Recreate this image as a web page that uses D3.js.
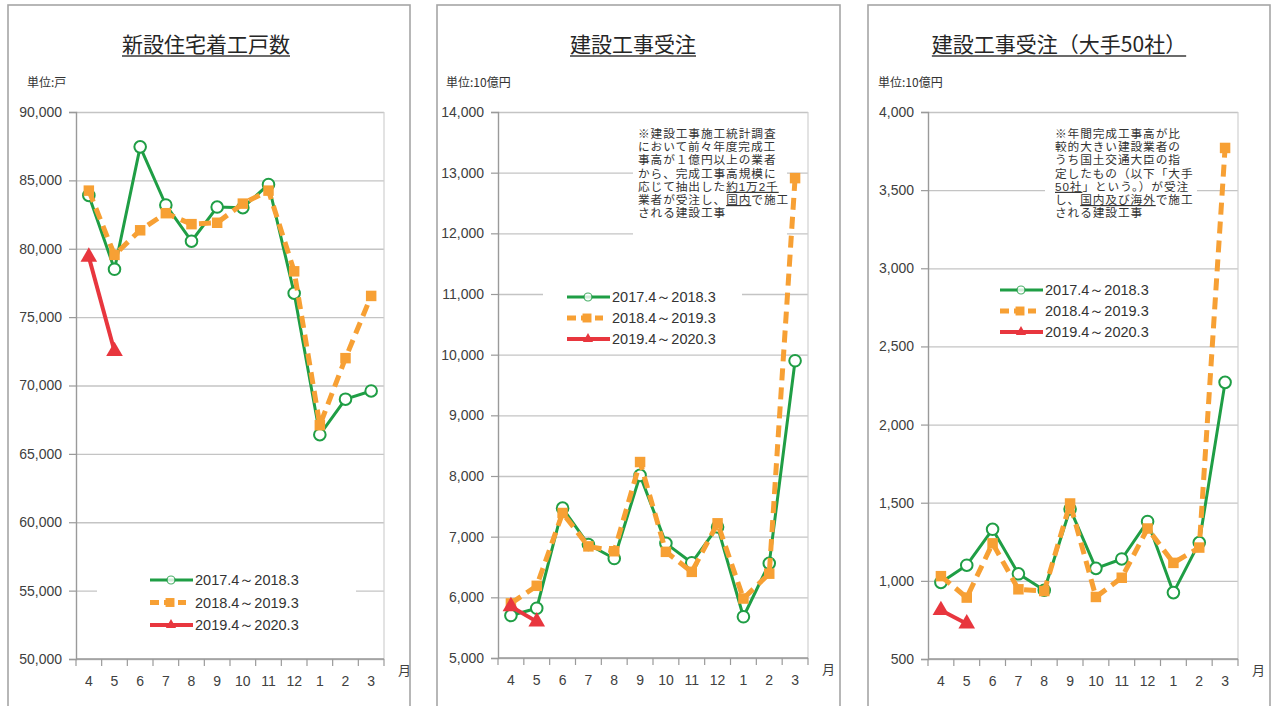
<!DOCTYPE html>
<html lang="ja">
<head>
<meta charset="utf-8">
<script src="https://cdn.jsdelivr.net/npm/d3@7"></script>
<style>
  html, body { margin: 0; padding: 0; background: #fff; }
  svg { display: block; }
  .tick text { font-family: "Liberation Sans", Arial, sans-serif; }
</style>
</head>
<body>
<svg id="chart" width="1271" height="706"></svg>
<script>
// ---- data ----
const months = ["4", "5", "6", "7", "8", "9", "10", "11", "12", "1", "2", "3"];
const seriesNames = ["2017.4～2018.3", "2018.4～2019.3", "2019.4～2020.3"];

// 新設住宅着工戸数 (戸)
const housing2017 = [83900, 78500, 87450, 83200, 80550, 83050, 83000, 84700, 76750, 66400, 69000, 69600];
const housing2018 = [84250, 79550, 81350, 82600, 81800, 81900, 83300, 84250, 78350, 67100, 72000, 76550];
const housing2019 = [79400, 72500];
const housingTicks = [50000, 55000, 60000, 65000, 70000, 75000, 80000, 85000, 90000];

// 建設工事受注 (10億円)
const orders2017 = [5700, 5820, 7470, 6870, 6640, 8010, 6890, 6570, 7160, 5680, 6560, 9900];
const orders2018 = [5900, 6190, 7390, 6840, 6760, 8230, 6750, 6420, 7220, 5980, 6390, 12910];
const orders2019 = [5850, 5600];
const ordersTicks = [5000, 6000, 7000, 8000, 9000, 10000, 11000, 12000, 13000, 14000];

// 建設工事受注（大手50社） (10億円)
const top50_2017 = [990, 1100, 1330, 1045, 940, 1460, 1080, 1140, 1380, 925, 1245, 2270];
const top50_2018 = [1030, 893, 1240, 946, 935, 1495, 897, 1020, 1335, 1115, 1213, 3770];
const top50_2019 = [812, 726];
const top50Ticks = [500, 1000, 1500, 2000, 2500, 3000, 3500, 4000];

const titles = ["新設住宅着工戸数", "建設工事受注", "建設工事受注（大手50社）"];
const units = ["単位:戸", "単位:10億円", "単位:10億円"];

// notes: each line is a list of [text, underlined?] pieces
const note2 = [
  [["※建設工事施工統計調査"]],
  [["において前々年度完成工"]],
  [["事高が１億円以上の業者"]],
  [["から、完成工事高規模に"]],
  [["応じて抽出した"], ["約1万2千", true]],
  [["業者が受注し、"], ["国内", true], ["で施工"]],
  [["される建設工事"]]
];
const note3 = [
  [["※年間完成工事高が比"]],
  [["較的大きい建設業者の"]],
  [["うち国土交通大臣の指"]],
  [["定したもの（以下「大手"]],
  [["50社", true], ["」という。）が受注"]],
  [["し、"], ["国内及び海外", true], ["で施工"]],
  [["される建設工事"]]
];

// ---- layout ----
const panels = [
  { box: [8, 5, 402], plot: [76, 384, 112, 659], titleX: 206, unitX: 27,
    series: [housing2017, housing2018, housing2019], ticks: housingTicks,
    legend: { x: 150, y: 580, bg: [97, 566, 259, 72] }, note: null },
  { box: [437, 5, 403], plot: [498, 808, 112, 658], titleX: 633, unitX: 446,
    series: [orders2017, orders2018, orders2019], ticks: ordersTicks,
    legend: { x: 567, y: 297, bg: [543, 285, 199, 66] },
    note: { lines: note2, x: 638, y: 138, bg: [633, 126, 154, 115] } },
  { box: [868, 5, 402], plot: [928, 1238, 112, 659], titleX: 1059, unitX: 878,
    series: [top50_2017, top50_2018, top50_2019], ticks: top50Ticks,
    legend: { x: 1000, y: 290, bg: [995, 279, 160, 62] },
    note: { lines: note3, x: 1055, y: 138, bg: [1045, 126, 152, 100] } }
];

const colors = { green: "#1f9e45", orange: "#f7a034", red: "#e8363e" };
const svg = d3.select("#chart");

function markerPath(kind, size) {
  return kind === "square" ? d3.symbol(d3.symbolSquare, size)() : d3.symbol(d3.symbolTriangle, size)();
}

panels.forEach((p, i) => {
  const g = svg.append("g");
  const [L, R, T, B] = p.plot;

  // panel frame
  g.append("rect")
    .attr("x", p.box[0]).attr("y", p.box[1])
    .attr("width", p.box[2]).attr("height", 730)
    .attr("fill", "#fff").attr("stroke", "#a6a6a6").attr("stroke-width", 1.6);

  // title with underline
  const title = g.append("text")
    .attr("x", p.titleX).attr("y", 52)
    .attr("text-anchor", "middle")
    .attr("font-family", "'Noto Sans CJK JP', sans-serif")
    .attr("font-size", 21).attr("fill", "#262626")
    .text(titles[i]);
  const tb = title.node().getBBox();
  g.append("line")
    .attr("x1", tb.x).attr("x2", tb.x + tb.width)
    .attr("y1", 56).attr("y2", 56)
    .attr("stroke", "#3a3a3a").attr("stroke-width", 1.5);

  // unit label
  g.append("text")
    .attr("x", p.unitX).attr("y", 87)
    .attr("font-family", "'Noto Sans CJK JP', sans-serif")
    .attr("font-size", 12).attr("fill", "#333")
    .text(units[i]);

  // scales
  const x = d3.scaleBand().domain(months).range([L, R]).padding(0);
  const y = d3.scaleLinear().domain([p.ticks[0], p.ticks[p.ticks.length - 1]]).range([B, T]);

  // gridlines
  g.append("g")
    .attr("transform", `translate(${L},0)`)
    .call(d3.axisLeft(y).tickValues(p.ticks).tickSize(-(R - L)).tickFormat(""))
    .call(a => a.select(".domain").remove())
    .call(a => a.selectAll("line").attr("stroke", "#c4c4c4").attr("stroke-width", 1.3));

  // right edge of the plot area
  g.append("line").attr("x1", R).attr("x2", R).attr("y1", T).attr("y2", B)
    .attr("stroke", "#d0d0d0").attr("stroke-width", 1.2);

  // y axis with outer ticks and labels
  g.append("g")
    .attr("transform", `translate(${L},0)`)
    .call(d3.axisLeft(y).tickValues(p.ticks).tickSize(7).tickPadding(7).tickFormat(d3.format(",")))
    .call(a => a.select(".domain").attr("stroke", "#9a9a9a").attr("stroke-width", 1.4))
    .call(a => a.selectAll(".tick line").attr("stroke", "#9a9a9a").attr("stroke-width", 1.2))
    .call(a => a.selectAll(".tick text").attr("font-size", 14).attr("fill", "#404040"));

  // x axis: ticks at category boundaries, labels centred in each band
  const xa = g.append("g").attr("transform", `translate(0,${B})`);
  xa.append("line").attr("x1", L).attr("x2", R).attr("y1", 0).attr("y2", 0)
    .attr("stroke", "#9a9a9a").attr("stroke-width", 1.4);
  const bounds = months.map(m => x(m)).concat([R]);
  xa.selectAll("line.tk").data(bounds).join("line").attr("class", "tk")
    .attr("x1", d => d).attr("x2", d => d).attr("y1", 0).attr("y2", 7)
    .attr("stroke", "#9a9a9a").attr("stroke-width", 1.2);
  xa.selectAll("text").data(months).join("text")
    .attr("x", d => x(d) + x.bandwidth() / 2).attr("y", 27)
    .attr("text-anchor", "middle")
    .attr("font-family", "'Liberation Sans', Arial, sans-serif")
    .attr("font-size", 14).attr("fill", "#404040")
    .text(d => d);
  g.append("text")
    .attr("x", R + 14).attr("y", B + 16)
    .attr("font-family", "'Noto Sans CJK JP', sans-serif")
    .attr("font-size", 13).attr("fill", "#404040")
    .text("月");

  // backgrounds of legend and note
  const lg = p.legend;
  g.append("rect").attr("x", lg.bg[0]).attr("y", lg.bg[1]).attr("width", lg.bg[2]).attr("height", lg.bg[3]).attr("fill", "#fff");
  if (p.note) {
    const nb = p.note.bg;
    g.append("rect").attr("x", nb[0]).attr("y", nb[1]).attr("width", nb[2]).attr("height", nb[3]).attr("fill", "#fff");
  }

  const cx = (d, k) => x(months[k]) + x.bandwidth() / 2;
  const line = d3.line().x(cx).y(d => y(d));

  // 2017.4～2018.3 : green, open circles
  g.append("path").datum(p.series[0]).attr("d", line)
    .attr("fill", "none").attr("stroke", colors.green).attr("stroke-width", 3).attr("stroke-linejoin", "round");
  g.selectAll("circle.s0").data(p.series[0]).join("circle").attr("class", "s0")
    .attr("cx", cx).attr("cy", d => y(d)).attr("r", 5.8)
    .attr("fill", "#fff").attr("stroke", colors.green).attr("stroke-width", 2);

  // 2018.4～2019.3 : orange dashed, squares
  g.append("path").datum(p.series[1]).attr("d", line)
    .attr("fill", "none").attr("stroke", colors.orange).attr("stroke-width", 5)
    .attr("stroke-dasharray", "12,7").attr("stroke-linejoin", "round");
  g.selectAll("path.s1").data(p.series[1]).join("path").attr("class", "s1")
    .attr("transform", (d, k) => `translate(${cx(d, k)},${y(d)})`)
    .attr("d", markerPath("square", 110)).attr("fill", colors.orange);

  // 2019.4～2020.3 : red, triangles
  g.append("path").datum(p.series[2]).attr("d", line)
    .attr("fill", "none").attr("stroke", colors.red).attr("stroke-width", 4);
  g.selectAll("path.s2").data(p.series[2]).join("path").attr("class", "s2")
    .attr("transform", (d, k) => `translate(${cx(d, k)},${y(d)})`)
    .attr("d", markerPath("triangle", 120)).attr("fill", colors.red);

  // legend
  const rowH = i === 0 ? 22.5 : 21;
  seriesNames.forEach((name, s) => {
    const ry = lg.y + s * rowH;
    const row = g.append("g");
    if (s === 0) {
      row.append("line").attr("x1", lg.x).attr("x2", lg.x + 43).attr("y1", ry).attr("y2", ry)
        .attr("stroke", colors.green).attr("stroke-width", 3);
      row.append("circle").attr("cx", lg.x + 21).attr("cy", ry).attr("r", 4)
        .attr("fill", "#fff").attr("stroke", colors.green).attr("stroke-width", 1.2).attr("opacity", 0.8);
    } else if (s === 1) {
      row.append("line").attr("x1", lg.x).attr("x2", lg.x + 36).attr("y1", ry).attr("y2", ry)
        .attr("stroke", colors.orange).attr("stroke-width", 5).attr("stroke-dasharray", "9,5");
      row.append("path").attr("transform", `translate(${lg.x + 20},${ry})`)
        .attr("d", markerPath("square", 80)).attr("fill", colors.orange);
    } else {
      row.append("line").attr("x1", lg.x).attr("x2", lg.x + 43).attr("y1", ry).attr("y2", ry)
        .attr("stroke", colors.red).attr("stroke-width", 4);
      row.append("path").attr("transform", `translate(${lg.x + 21},${ry})`)
        .attr("d", markerPath("triangle", 45)).attr("fill", colors.red);
    }
    row.append("text").attr("x", lg.x + 45).attr("y", ry + 5)
      .attr("font-family", "'Liberation Sans', Arial, sans-serif")
      .attr("font-size", 14.5).attr("fill", "#333")
      .text(name);
  });

  // explanatory note: tightly leaded block, one row per line
  if (p.note) {
    const t = g.append("text")
      .attr("font-family", "'Liberation Sans', 'Noto Sans CJK JP', sans-serif")
      .attr("font-size", 11.7).attr("letter-spacing", 0.9).attr("fill", "#333");
    p.note.lines.forEach((parts, li) => {
      parts.forEach(([txt, ul], pi) => {
        const ts = t.append("tspan").text(txt)
          .attr("text-decoration", ul ? "underline" : null);
        if (pi === 0) ts.attr("x", p.note.x).attr("y", p.note.y + li * 13.2);
      });
    });
  }
});
</script>
</body>
</html>
